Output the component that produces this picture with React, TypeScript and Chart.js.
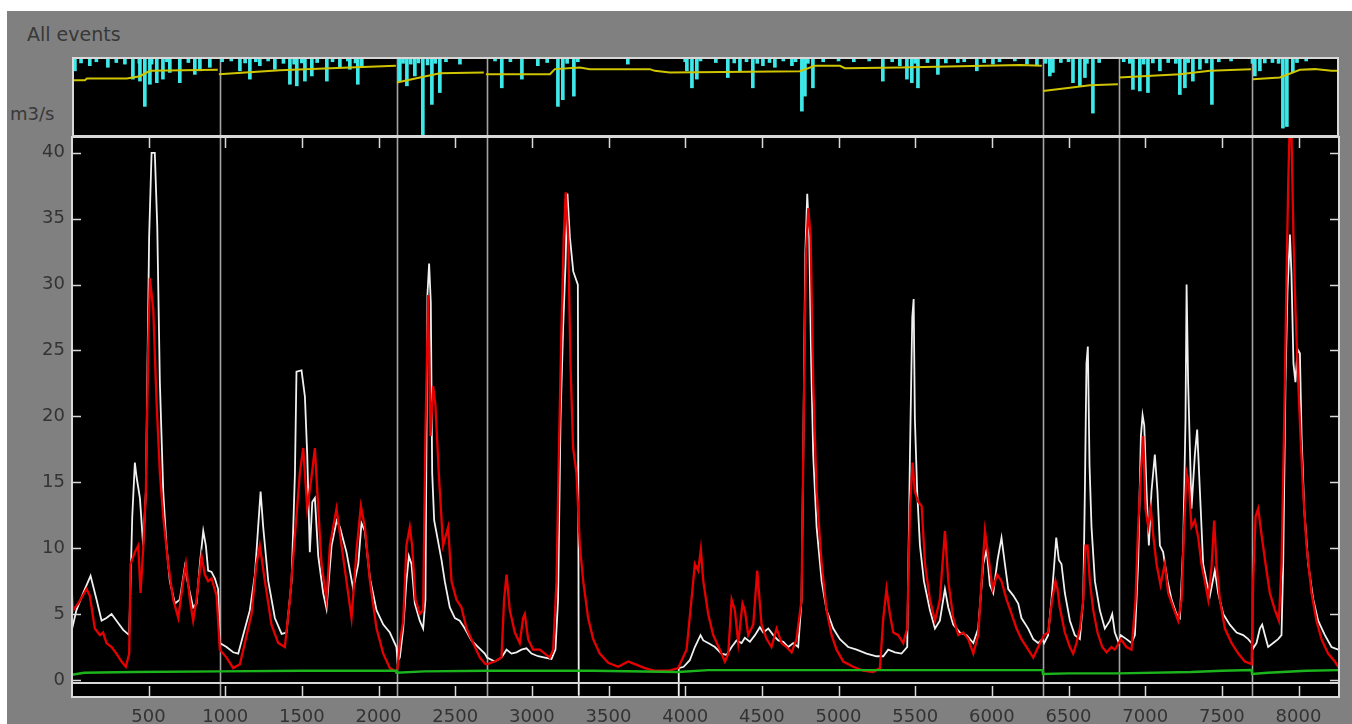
import React, { useEffect, useRef } from 'react';
import { Chart, registerables } from 'chart.js';

Chart.register(...registerables);

// ---------- data ----------
// time step index of the start of each event (separators)
const eventBounds: number[] = [965, 2118, 2705, 6331, 6828, 7694];

const xMin = 1;
const xMax = 8264;
const yMin = -0.23;
const yMax = 41.2;
const xTickValues: number[] = [500, 1000, 1500, 2000, 2500, 3000, 3500, 4000, 4500, 5000, 5500, 6000, 6500, 7000, 7500, 8000];
const yTickValues: number[] = [0, 5, 10, 15, 20, 25, 30, 35, 40];

// simulated discharge (white), m3/s
const simFlow: [number, number | null][] = [
  [0, 3.8], [30, 5.3], [74, 6.6], [122, 7.9], [161, 6.1], [194, 4.5], [226, 4.7], [259, 5.0], [291, 4.5], [335, 3.8], [374, 3.4], [394, 12.4], [411, 16.5], [422, 15.4], [444, 13.8], [465, 10.2], [483, 14.3], [504, 33.6], [520, 40.0], [541, 40.0], [557, 34.4], [574, 22.6], [596, 14.3], [617, 10.2], [639, 7.5], [672, 5.8], [704, 6.1], [737, 8.6], [759, 7.2], [791, 5.5], [813, 5.8], [835, 8.8], [857, 11.3], [874, 10.2], [889, 8.3], [911, 8.2], [933, 7.7], [954, 6.9],
  [965, 2.8], [1009, 2.5], [1052, 2.1], [1085, 2.0], [1117, 3.4], [1161, 5.3], [1194, 8.0], [1215, 11.6], [1231, 14.3], [1248, 11.6], [1281, 7.5], [1324, 4.7], [1368, 3.5], [1400, 3.6], [1433, 7.5], [1455, 15.7], [1465, 23.4], [1498, 23.5], [1520, 21.5], [1535, 17.1], [1552, 9.7], [1568, 13.5], [1585, 13.8], [1607, 9.4], [1639, 6.6], [1661, 5.4], [1694, 10.2], [1727, 12.1], [1748, 11.6], [1791, 9.7], [1835, 6.9], [1868, 8.8], [1889, 11.9], [1911, 11.3], [1944, 7.7], [1987, 5.3], [2031, 4.2], [2074, 3.6], [2117, 2.5],
  [2124, 1.4], [2139, 1.7], [2161, 3.9], [2182, 7.5], [2198, 9.4], [2215, 8.8], [2237, 5.8], [2269, 4.5], [2291, 3.9], [2306, 6.1], [2319, 29.2], [2330, 31.6], [2341, 28.6], [2350, 15.7], [2363, 12.1], [2384, 10.8], [2411, 9.1], [2432, 7.5], [2465, 5.5], [2498, 4.7], [2530, 4.5], [2563, 3.9], [2606, 3.0], [2650, 2.5], [2693, 2.0],
  [2708, 1.7], [2758, 1.4], [2802, 1.7], [2835, 2.3], [2867, 2.0], [2900, 2.1], [2932, 2.3], [2965, 2.4], [2998, 2.0], [3041, 1.8], [3085, 1.7], [3128, 1.6], [3154, 2.3], [3171, 6.1], [3187, 19.8], [3204, 26.7], [3219, 31.4], [3232, 36.9], [3248, 33.6], [3270, 31.0], [3300, 30.0], [3306, -1.2], [3307, null], [3953, null], [3954, -1.2], [3958, 0.9], [3990, 1.0], [4030, 1.5], [4063, 2.5], [4100, 3.4],
  [4118, 3.0], [4150, 2.8], [4194, 2.5], [4237, 2.0], [4270, 1.9], [4303, 2.5], [4335, 3.0], [4368, 2.8], [4389, 3.2], [4422, 2.9], [4455, 3.4], [4487, 4.0], [4509, 3.6], [4542, 3.9], [4574, 3.4], [4607, 3.0], [4640, 2.9], [4672, 2.5], [4705, 2.8], [4737, 2.5], [4759, 6.1], [4770, 17.1], [4783, 32.2], [4796, 36.9], [4809, 33.6], [4822, 24.0], [4835, 17.1], [4857, 11.6], [4890, 7.5], [4922, 5.3], [4966, 3.9], [5009, 3.1], [5063, 2.5], [5118, 2.3], [5183, 2.0], [5248, 1.8], [5292, 1.8], [5324, 2.3], [5368, 2.1], [5411, 2.0], [5448, 2.5], [5466, 17.1], [5481, 27.5], [5490, 28.9], [5498, 19.8], [5513, 14.3], [5531, 10.2], [5557, 7.5], [5596, 5.3], [5629, 3.9], [5661, 4.5], [5694, 6.9], [5716, 5.5], [5748, 4.2], [5792, 3.6], [5835, 3.4], [5879, 2.8], [5911, 3.9], [5944, 8.8], [5966, 9.9], [5987, 7.2], [6009, 6.6], [6037, 9.1], [6063, 10.8], [6085, 8.8], [6107, 6.9], [6140, 6.4], [6172, 5.8], [6193, 4.7], [6237, 3.9], [6270, 3.1], [6302, 2.8], [6330, 3.1],
  [6341, 2.8], [6367, 3.4], [6389, 6.1], [6407, 8.8], [6420, 10.8], [6437, 9.1], [6454, 8.8], [6476, 6.6], [6509, 4.5], [6541, 3.4], [6574, 3.1], [6596, 6.1], [6607, 14.6], [6617, 24.0], [6626, 25.3], [6637, 16.3], [6650, 11.6], [6672, 7.5], [6704, 5.3], [6737, 3.9], [6770, 4.5], [6785, 5.0], [6802, 3.6], [6828, 2.8],
  [6841, 3.4], [6878, 3.1], [6911, 2.8], [6933, 3.4], [6954, 8.8], [6972, 18.5], [6983, 20.1], [6994, 19.3], [7009, 14.3], [7024, 10.2], [7041, 14.3], [7063, 17.1], [7080, 14.3], [7096, 10.2], [7117, 9.7], [7146, 7.5], [7172, 6.1], [7204, 5.0], [7226, 4.7], [7248, 10.2], [7263, 19.8], [7270, 30.0], [7280, 22.6], [7302, 13.0], [7324, 17.1], [7339, 19.0], [7357, 14.3], [7378, 8.8], [7400, 7.5], [7422, 6.4], [7454, 8.3], [7476, 6.6], [7509, 5.0], [7552, 4.2], [7596, 3.6], [7639, 3.4], [7672, 3.1], [7694, 2.8],
  [7704, 2.4], [7726, 2.8], [7748, 3.9], [7763, 4.2], [7781, 3.4], [7802, 2.5], [7835, 2.8], [7867, 3.1], [7889, 3.4], [7900, 8.8], [7915, 22.6], [7928, 29.5], [7944, 33.8], [7954, 30.8], [7967, 24.0], [7980, 22.6], [7994, 25.1], [8009, 24.8], [8020, 18.5], [8037, 13.0], [8063, 8.8], [8096, 6.1], [8128, 4.5], [8172, 3.4], [8215, 2.5], [8259, 2.3],
];

// observed discharge (red), m3/s
const obsFlow: [number, number][] = [
  [0, 6.6], [9, 5.3], [41, 5.8], [96, 6.9], [117, 6.4], [150, 3.9], [183, 3.4], [204, 3.6], [226, 2.8], [259, 2.5], [291, 2.0], [324, 1.4], [352, 1.0], [374, 2.0], [383, 8.8], [411, 9.7], [433, 10.2], [448, 6.6], [465, 9.9], [483, 14.3], [498, 25.3], [509, 30.5], [531, 28.1], [552, 21.2], [574, 15.7], [596, 12.4], [628, 8.8], [661, 6.1], [694, 4.7], [726, 7.5], [744, 8.8], [770, 6.1], [791, 4.5], [813, 6.1], [846, 9.4], [867, 8.0], [889, 7.5], [911, 7.7], [944, 6.4], [954, 4.5],
  [965, 2.3], [1009, 1.7], [1052, 0.9], [1096, 1.2], [1128, 2.8], [1172, 5.0], [1204, 8.8], [1226, 10.2], [1259, 7.5], [1302, 4.2], [1346, 2.8], [1389, 2.5], [1422, 6.1], [1455, 11.0], [1487, 15.7], [1509, 17.6], [1535, 13.0], [1563, 15.4], [1585, 17.6], [1607, 13.0], [1628, 8.8], [1661, 6.1], [1683, 10.2], [1726, 13.0], [1759, 10.2], [1791, 7.5], [1824, 4.7], [1857, 9.9], [1885, 13.2], [1911, 11.6], [1944, 7.5], [1987, 3.9], [2031, 2.0], [2074, 0.9], [2117, 0.6],
  [2124, 0.9], [2139, 2.8], [2161, 4.5], [2182, 10.2], [2204, 11.6], [2219, 10.2], [2241, 6.1], [2269, 5.0], [2291, 5.3], [2306, 18.7], [2324, 29.2], [2339, 18.5], [2356, 22.3], [2371, 20.9], [2393, 15.7], [2421, 10.2], [2454, 11.6], [2476, 7.5], [2508, 6.1], [2541, 5.5], [2574, 3.9], [2617, 2.8], [2661, 1.7], [2698, 1.2],
  [2708, 1.2], [2758, 1.4], [2802, 1.7], [2819, 6.1], [2835, 8.0], [2856, 5.3], [2889, 3.6], [2921, 2.8], [2943, 4.7], [2954, 5.0], [2976, 3.1], [3008, 2.3], [3052, 2.3], [3085, 2.0], [3117, 1.7], [3139, 2.3], [3161, 7.5], [3176, 17.1], [3193, 26.7], [3208, 33.6], [3221, 37.0], [3237, 33.6], [3252, 24.0], [3269, 17.6], [3291, 15.7], [3313, 10.2], [3335, 7.5], [3367, 4.7], [3400, 3.1], [3443, 2.0], [3498, 1.3], [3563, 1.0], [3628, 1.4], [3672, 1.2], [3737, 0.9], [3802, 0.7], [3889, 0.7], [3954, 0.9], [4009, 2.3], [4041, 6.1], [4063, 8.8], [4085, 8.3], [4102, 9.9], [4118, 7.5], [4150, 5.0], [4183, 3.4], [4226, 2.3], [4259, 1.4], [4281, 2.0], [4303, 6.1], [4324, 5.3], [4346, 2.8], [4374, 5.8], [4389, 5.3], [4411, 3.4], [4444, 4.2], [4470, 8.3], [4498, 4.2], [4531, 3.1], [4563, 2.5], [4596, 3.9], [4629, 2.8], [4661, 2.5], [4694, 2.1], [4726, 3.1], [4759, 6.1], [4770, 17.1], [4787, 32.2], [4803, 35.8], [4818, 33.6], [4835, 22.6], [4857, 14.3], [4890, 8.8], [4922, 5.3], [4955, 3.4], [4987, 2.3], [5031, 1.4], [5096, 1.0], [5161, 0.7], [5226, 0.6], [5270, 0.9], [5292, 4.7], [5313, 6.9], [5335, 5.0], [5357, 3.6], [5390, 3.4], [5422, 2.8], [5448, 3.9], [5466, 13.0], [5483, 16.5], [5498, 14.3], [5520, 13.5], [5542, 13.2], [5564, 8.8], [5596, 6.1], [5629, 4.5], [5661, 6.1], [5694, 11.3], [5716, 7.5], [5748, 4.7], [5781, 3.4], [5813, 3.6], [5846, 3.1], [5879, 2.0], [5911, 3.4], [5933, 7.5], [5955, 11.3], [5977, 9.4], [6005, 6.9], [6035, 8.0], [6063, 7.5], [6096, 6.1], [6129, 5.0], [6161, 3.9], [6193, 3.1], [6237, 2.3], [6270, 1.7], [6302, 2.5], [6328, 3.1],
  [6341, 3.4], [6367, 3.6], [6393, 6.1], [6415, 7.5], [6428, 6.9], [6443, 5.5], [6476, 3.6], [6509, 2.5], [6530, 2.0], [6552, 2.8], [6574, 3.9], [6596, 6.1], [6611, 10.2], [6624, 10.2], [6639, 7.5], [6661, 5.3], [6689, 3.6], [6720, 2.5], [6748, 2.1], [6780, 2.5], [6802, 2.3], [6828, 2.8],
  [6841, 3.1], [6878, 2.5], [6911, 2.3], [6937, 6.1], [6954, 11.6], [6972, 15.7], [6987, 18.5], [7002, 13.0], [7020, 11.6], [7037, 13.0], [7052, 11.0], [7074, 8.8], [7100, 7.2], [7128, 8.8], [7150, 6.6], [7183, 5.5], [7215, 4.5], [7237, 6.1], [7254, 11.6], [7270, 15.7], [7285, 14.9], [7302, 11.6], [7324, 12.1], [7346, 10.8], [7367, 8.8], [7389, 7.5], [7411, 6.1], [7433, 8.6], [7450, 12.1], [7465, 8.8], [7487, 6.1], [7520, 3.9], [7563, 2.8], [7607, 2.0], [7650, 1.4], [7694, 1.2],
  [7704, 7.5], [7720, 12.4], [7737, 13.0], [7759, 11.0], [7785, 8.8], [7813, 6.6], [7846, 5.3], [7872, 4.5], [7889, 8.8], [7907, 19.8], [7922, 30.8], [7933, 37.7], [7941, 41.5], [7954, 41.5], [7967, 33.6], [7980, 28.1], [7998, 22.6], [8013, 18.5], [8030, 14.3], [8052, 10.2], [8085, 6.6], [8117, 4.5], [8150, 3.1], [8193, 2.0], [8237, 1.4], [8264, 0.9],
];

// base flow (green), m3/s
const baseFlow: [number, number][] = [
  [1, 0.4], [80, 0.55], [400, 0.6], [965, 0.65], [1500, 0.7], [2117, 0.7], [2118, 0.55], [2300, 0.65], [2705, 0.7], [3400, 0.7], [3954, 0.6], [4150, 0.75], [6331, 0.75], [6333, 0.45], [6500, 0.5], [6828, 0.5], [7300, 0.6], [7500, 0.7], [7694, 0.75], [7697, 0.45], [7800, 0.55], [8050, 0.7], [8264, 0.75],
];

// upper panel: rainfall-like bars (cyan), hanging from the top
const rainTop: [number, number][] = [
  [20, 3.5], [117, 2.2], [235, 2.6], [346, 1.8], [398, 5.6], [444, 6.1], [476, 12.5], [509, 6.9], [554, 6.5], [594, 5.6], [639, 3.9], [704, 6.5], [802, 4.4], [835, 3.5], [900, 2.6],
  [1096, 3.5], [1161, 5.6], [1226, 2.2], [1324, 3.1], [1422, 6.9], [1467, 7.3], [1520, 6.1], [1565, 4.8], [1663, 6.1], [1748, 2.6], [1813, 3.1], [1865, 6.9], [1891, 2.6],
  [2139, 6.1], [2185, 7.3], [2237, 4.8], [2289, 20], [2348, 12.0], [2400, 9.0],
  [2531, 1.8], [2804, 7.8], [2935, 5.6], [3039, 2.2], [3170, 12.5], [3202, 10.8], [3274, 9.9], [3626, 1.8], [4011, 3.5], [4044, 7.8], [4076, 5.6], [4278, 5.2], [4357, 3.5], [4441, 7.8], [4507, 2.2], [4585, 2.6], [4696, 2.2], [4761, 13.7], [4781, 9.9], [4833, 7.8], [5289, 6.1], [5400, 2.2], [5446, 5.6], [5478, 6.5], [5518, 7.8], [5648, 4.4], [5778, 1.4], [5902, 3.5], [6007, 1.8], [6229, 1.8], [6294, 2.2],
  [6378, 4.8], [6398, 3.9], [6529, 6.5], [6574, 7.3], [6607, 5.2], [6659, 14.2],
  [6920, 8.2], [6965, 8.6], [7018, 9.0], [7096, 3.5], [7226, 9.5], [7259, 7.8], [7311, 6.1], [7357, 3.1], [7435, 12.0],
  [7715, 4.8], [7748, 3.5], [7898, 18.0], [7924, 17.6], [7963, 3.9],
  [60, 1.5], [160, 1.2], [290, 1.4], [440, 1.6], [520, 1.8], [620, 1.2], [760, 1.4], [980, 1.2], [1040, 1.0], [1130, 1.5], [1200, 1.2], [1280, 1.0], [1380, 1.6], [1450, 1.8], [1500, 1.5], [1600, 1.4], [1700, 1.2], [1800, 1.0], [1850, 1.5], [2160, 1.6], [2210, 1.8], [2260, 1.5], [2320, 2.0], [2370, 1.6], [2440, 1.2], [2760, 1.0], [2860, 1.2], [3100, 1.4], [3230, 1.6], [3300, 1.2], [4000, 1.2], [4100, 1.0], [4200, 1.4], [4320, 1.5], [4400, 1.2], [4470, 1.6], [4550, 1.4], [4640, 1.0], [4720, 1.2], [4800, 1.6], [4900, 1.2], [5000, 1.0], [5100, 1.2], [5200, 1.0], [5350, 1.2], [5500, 1.6], [5580, 1.4], [5700, 1.5], [5820, 1.2], [5950, 1.4], [6050, 1.2], [6150, 1.0], [6350, 1.6], [6450, 1.4], [6500, 1.2], [6620, 1.6], [6700, 1.4], [6860, 1.2], [6900, 1.6], [6990, 1.8], [7050, 1.5], [7150, 1.4], [7200, 1.6], [7280, 1.4], [7400, 1.5], [7480, 1.2], [7560, 1.0], [7700, 1.6], [7780, 1.5], [7830, 1.4], [7870, 1.6], [7990, 1.4], [8050, 1.0],
];

// upper panel: yellow line (same inverted scale)
const yellowTop: [number, number | null][] = [
  [1, 5.9], [85, 5.9], [98, 5.45], [359, 5.45], [444, 4.86], [509, 3.5], [952, 3.25], [958, null],
  [959, 4.35], [1357, 3.33], [1813, 2.64], [2113, 2.23], [2116, null],
  [2120, 6.48], [2270, 5.2], [2400, 4.1], [2687, 3.92], [2695, null],
  [2700, 4.35], [3118, 4.35], [3150, 3.07], [3313, 2.64], [3378, 3.07], [3770, 3.07], [3802, 3.5], [3900, 3.92], [4748, 3.58], [4846, 2.23], [5009, 2.23], [5042, 2.82], [5400, 2.64], [6183, 2.05], [6326, 2.23], [6329, null],
  [6333, 8.63], [6509, 7.76], [6639, 7.17], [6822, 6.91], [6825, null],
  [6829, 5.2], [7226, 4.35], [7422, 3.5], [7690, 3.07], [7692, null],
  [7702, 5.63], [7878, 5.2], [8009, 3.25], [8107, 3.07], [8215, 3.5], [8264, 3.5],
];

const topMax = 20;

// ---------- helpers ----------
const FONT = 'DejaVu Sans';
const TEXT = '#333333';
const FRAME = '#d8d8d8';
const SEP = '#a4a4a4';
const STRIP = 14;

const toXY = (arr: [number, number | null][]) => arr.map(([x, y]) => ({ x, y }));

function line(ctx: CanvasRenderingContext2D, x1: number, y1: number, x2: number, y2: number) {
  ctx.beginPath();
  ctx.moveTo(x1, y1);
  ctx.lineTo(x2, y2);
  ctx.stroke();
}

const mainDeco = {
  id: 'mainDeco',
  beforeDraw(chart: any) {
    const { ctx, chartArea: a, scales } = chart;
    const x = scales.x;
    ctx.save();
    ctx.fillStyle = '#000';
    ctx.fillRect(a.left, a.top, a.right - a.left, a.bottom - a.top + STRIP);
    ctx.strokeStyle = SEP;
    ctx.lineWidth = 1.6;
    eventBounds.forEach((b) => {
      const px = Math.round(x.getPixelForValue(b)) + 0.5;
      line(ctx, px, a.top, px, a.bottom + STRIP);
    });
    ctx.restore();
  },
  afterDraw(chart: any) {
    const { ctx, chartArea: a, scales } = chart;
    const x = scales.x;
    const y = scales.y;
    ctx.save();
    ctx.strokeStyle = FRAME;
    ctx.lineWidth = 2;
    ctx.strokeRect(a.left, a.top, a.right - a.left, a.bottom - a.top);
    ctx.strokeRect(a.left, a.bottom, a.right - a.left, STRIP);
    ctx.lineWidth = 1.5;
    x.ticks.forEach((t: any) => {
      const px = Math.round(x.getPixelForValue(t.value)) + 0.5;
      line(ctx, px, a.top, px, a.top + 11);
      line(ctx, px, a.bottom + STRIP, px, a.bottom + STRIP - 11);
    });
    y.ticks.forEach((t: any) => {
      const py = Math.round(y.getPixelForValue(t.value)) + 0.5;
      line(ctx, a.left, py, a.left + 9, py);
      line(ctx, a.right, py, a.right - 9, py);
    });
    ctx.restore();
  },
};

const topDeco = {
  id: 'topDeco',
  beforeDraw(chart: any) {
    const { ctx, chartArea: a, scales } = chart;
    const x = scales.x;
    ctx.save();
    ctx.fillStyle = '#000';
    ctx.fillRect(a.left, a.top, a.right - a.left, a.bottom - a.top);
    ctx.strokeStyle = SEP;
    ctx.lineWidth = 1.6;
    eventBounds.forEach((b) => {
      const px = Math.round(x.getPixelForValue(b)) + 0.5;
      line(ctx, px, a.top, px, a.bottom);
    });
    ctx.restore();
  },
  afterDraw(chart: any) {
    const { ctx, chartArea: a } = chart;
    ctx.save();
    ctx.strokeStyle = FRAME;
    ctx.lineWidth = 2;
    ctx.strokeRect(a.left + 1, a.top + 1, a.right - a.left - 2, a.bottom - a.top - 1);
    ctx.restore();
  },
};

export default function App() {
  const mainRef = useRef<HTMLCanvasElement>(null);
  const topRef = useRef<HTMLCanvasElement>(null);

  useEffect(() => {
    const main = new Chart(mainRef.current as HTMLCanvasElement, {
      type: 'line',
      data: {
        datasets: [
          { label: 'base', data: toXY(baseFlow) as any, borderColor: '#1cb41c', borderWidth: 2.4, pointRadius: 0 },
          { label: 'observed', data: toXY(obsFlow) as any, borderColor: '#e60000', borderWidth: 2.3, pointRadius: 0 },
          {
            label: 'simulated', data: toXY(simFlow) as any, borderColor: '#f0f0f0', borderWidth: 1.8, pointRadius: 0,
            clip: { left: 0, top: 0, right: 0, bottom: STRIP } as any,
          },
        ],
      },
      options: {
        responsive: false,
        animation: false,
        events: [],
        layout: { padding: { left: 0, right: 13, top: 137, bottom: 0 } },
        plugins: { legend: { display: false }, tooltip: { enabled: false } },
        scales: {
          x: {
            type: 'linear', min: xMin, max: xMax, position: 'bottom',
            grid: { display: false, drawTicks: false }, border: { display: false },
            afterBuildTicks: (s: any) => { s.ticks = xTickValues.map((v) => ({ value: v })); },
            ticks: {
              autoSkip: false, maxRotation: 0, minRotation: 0,
              color: TEXT, font: { family: FONT, size: 18 }, padding: 24,
              callback: (v: any) => String(v),
            },
            afterFit: (s: any) => { s.height = 41; s.paddingRight = 0; s.paddingLeft = 0; },
          },
          y: {
            type: 'linear', min: yMin, max: yMax,
            grid: { display: false, drawTicks: false }, border: { display: false },
            afterBuildTicks: (s: any) => { s.ticks = yTickValues.map((v) => ({ value: v })); },
            ticks: {
              color: TEXT, font: { family: FONT, size: 18 }, padding: 7,
              callback: (v: any) => String(v),
            },
            afterFit: (s: any) => { s.width = 72; s.paddingTop = 0; s.paddingBottom = 0; },
          },
        },
      } as any,
      plugins: [mainDeco],
    });

    const top = new Chart(topRef.current as HTMLCanvasElement, {
      type: 'bar',
      data: {
        datasets: [
          { type: 'bar', label: 'rain', data: toXY(rainTop) as any, backgroundColor: '#3fe8e8', barThickness: 3, order: 2 } as any,
          { type: 'line', label: 'level', data: toXY(yellowTop) as any, borderColor: '#cfc400', borderWidth: 2, pointRadius: 0, spanGaps: false, order: 1 } as any,
        ],
      },
      options: {
        responsive: false,
        animation: false,
        events: [],
        layout: { padding: 0 },
        plugins: { legend: { display: false }, tooltip: { enabled: false } },
        scales: {
          x: { type: 'linear', min: xMin, max: xMax, display: false, offset: false },
          y: { type: 'linear', min: 0, max: topMax, reverse: true, display: false },
        },
      } as any,
      plugins: [topDeco],
    });

    return () => {
      main.destroy();
      top.destroy();
    };
  }, []);

  return (
    <div style={{ position: 'fixed', left: 0, top: 0, width: 1352, height: 724, background: '#ffffff', overflow: 'hidden' }}>
      <div style={{ position: 'absolute', left: 7, top: 11, width: 1345, height: 713, background: '#808080' }} />
      <div style={{ position: 'absolute', left: 27, top: 25, fontFamily: FONT, fontSize: 19, lineHeight: '19px', color: '#383838', whiteSpace: 'nowrap' }}>All events</div>
      <div style={{ position: 'absolute', left: 10, top: 105, fontFamily: FONT, fontSize: 18, lineHeight: '18px', color: '#383838', whiteSpace: 'nowrap' }}>m3/s</div>
      <canvas ref={mainRef} width={1352} height={724} style={{ position: 'absolute', left: 0, top: 0, width: 1352, height: 724 }} />
      <canvas ref={topRef} width={1267} height={79} style={{ position: 'absolute', left: 72, top: 57, width: 1267, height: 79 }} />
    </div>
  );
}
